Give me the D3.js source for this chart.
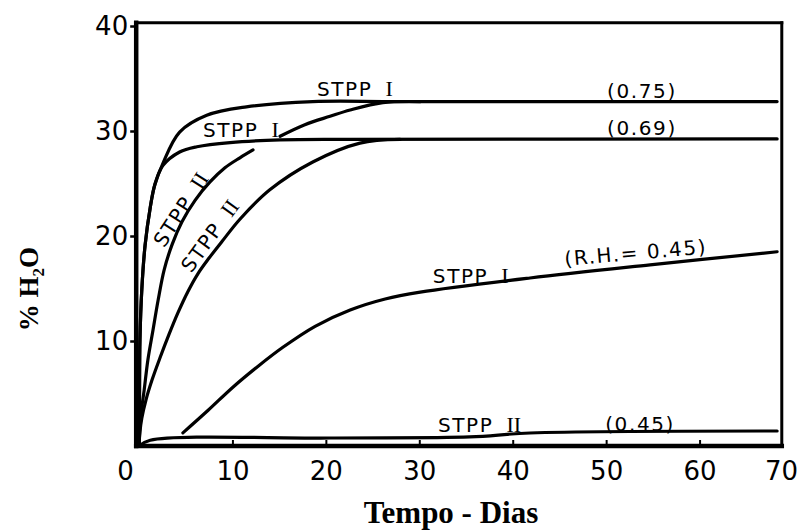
<!DOCTYPE html>
<html>
<head>
<meta charset="utf-8">
<script src="https://cdn.jsdelivr.net/npm/d3@7"></script>
<style>
  html, body { margin: 0; padding: 0; background: #fff; }
  svg { display: block; }
</style>
</head>
<body>
<svg id="chart" width="798" height="530"></svg>
<script>
// Water uptake of sodium tripolyphosphate (forms I and II) at several relative humidities.
// Days since exposure, and % H2O gained.

const stppI_075_days  = [0, 0.05, 0.1, 0.3, 0.65, 1.2, 1.7, 2.55, 4.35, 7.25, 11.5, 18.6, 27.9, 68.3];
const stppI_075_h2o   = [0, 4.4, 10.1, 14.9, 19.1, 22.7, 24.9, 26.9, 29.9, 31.5, 32.3, 32.8, 32.8, 32.8];

const stppI_069_days  = [0, 0.05, 0.1, 0.3, 0.65, 1.2, 1.7, 2.55, 4.35, 6.2, 9.75, 15.1, 22.6, 68.3];
const stppI_069_h2o   = [0, 4.4, 10.1, 14.9, 19.1, 22.7, 24.9, 26.7, 28.0, 28.5, 28.9, 29.15, 29.2, 29.25];

// null marks the break where the curve passes under the "STPP I" lettering
const stppII_075_days = [0, 0.2, 0.55, 0.95, 1.5, 2.05, 2.7, 3.55, 4.6, 6.0, 7.6, 9.2, 10.8, 12.2, 13.6, 15.1, 17.75, 20.45, 22.6, 26.1, 30.1];
const stppII_075_h2o  = [0, 2.95, 5.3, 8.2, 11.05, 13.9, 16.8, 19.2, 21.35, 23.4, 25.15, 26.5, 27.45, 28.2, null, 29.5, 30.6, 31.4, 32.0, 32.7, 32.8];

const stppII_069_days = [0, 0.1, 0.3, 0.75, 1.4, 2.25, 3.2, 4.15, 5.2, 6.3, 7.5, 8.9, 10.8, 14.0, 18.6, 23.65, 27.95];
const stppII_069_h2o  = [0, 1.35, 2.65, 4.4, 6.3, 8.4, 10.6, 12.65, 14.65, 16.4, 17.9, 19.5, 21.6, 24.4, 27.05, 28.85, 29.2];

const stppI_045_days  = [4.7, 7.4, 10.05, 12.75, 15.4, 18.85, 22.6, 26.35, 30.1, 41.85, 54.7, 68.3];
const stppI_045_h2o   = [1.25, 3.4, 5.6, 7.6, 9.4, 11.4, 12.95, 14.0, 14.65, 16.0, 17.25, 18.5];

const stppII_045_days = [0, 1.2, 20.45, 35.4, 41.85, 68.3];
const stppII_045_h2o  = [0, 0.55, 0.76, 0.86, 1.24, 1.43];

const xTickValues = [0, 10, 20, 30, 40, 50, 60, 70];
const yTickValues = [10, 20, 30, 40];

const xTitle = "Tempo - Dias";

// curve annotations: text, numeral, anchor day, anchor % H2O, rotation
const curveLabels = [
  { text: "STPP", numeral: "I",  day: 19.05, h2o: 33.3,  angle: 0,   anchor: "start" },
  { text: "(0.75)", numeral: "",  day: 50.1,  h2o: 33.15, angle: 0,   anchor: "start" },
  { text: "(0.69)", numeral: "",  day: 50.1,  h2o: 29.6,  angle: 0,   anchor: "start" },
  { text: "STPP", numeral: "I",  day: 6.85,  h2o: 29.4,  angle: 0,   anchor: "start" },
  { text: "STPP", numeral: "II", day: 4.5,   h2o: 22.5,  angle: -57, anchor: "middle" },
  { text: "STPP", numeral: "II", day: 7.6,   h2o: 20.0,  angle: -54, anchor: "middle" },
  { text: "STPP", numeral: "I",  day: 31.45, h2o: 15.5,  angle: 0,   anchor: "start" },
  { text: "(R.H.= 0.45)", numeral: "", day: 45.6, h2o: 17.15, angle: -5, anchor: "start" },
  { text: "STPP", numeral: "II", day: 32.0,  h2o: 1.33,  angle: 0,   anchor: "start" },
  { text: "(0.45)", numeral: "",  day: 49.9,  h2o: 1.43,  angle: 0,   anchor: "start" }
];

// plotting frame limits (in data units)
const frameDays = [-0.3, 68.8];
const frameH2O = [0, 40.3];

const svg = d3.select("#chart");

const x = d3.scaleLinear().domain([0, 70]).range([139, 793]);
const y = d3.scaleLinear().domain([0, 40]).range([446, 26]);

const series = [
  [stppI_075_days, stppI_075_h2o],
  [stppI_069_days, stppI_069_h2o],
  [stppII_075_days, stppII_075_h2o],
  [stppII_069_days, stppII_069_h2o],
  [stppI_045_days, stppI_045_h2o],
  [stppII_045_days, stppII_045_h2o]
].map(([ds, vs]) => ds.map((d, i) => ({ day: d, h2o: vs[i] })));

const line = d3.line()
  .defined(d => d.h2o != null)
  .x(d => x(d.day))
  .y(d => y(d.h2o))
  .curve(d3.curveCatmullRom.alpha(0.5));

svg.append("g")
  .selectAll("path")
  .data(series)
  .join("path")
  .attr("d", line)
  .attr("fill", "none")
  .attr("stroke", "#000")
  .attr("stroke-width", 3.2)
  .attr("stroke-linecap", "round")
  .attr("stroke-linejoin", "round");

// frame
const fx0 = x(frameDays[0]), fx1 = x(frameDays[1]);
const fy0 = y(frameH2O[0]), fy1 = y(frameH2O[1]);
const frame = svg.append("g").attr("stroke", "#000").attr("stroke-linecap", "square");
frame.append("line").attr("x1", fx0).attr("x2", fx0).attr("y1", fy1).attr("y2", fy0).attr("stroke-width", 4.5);
frame.append("line").attr("x1", fx0).attr("x2", fx1).attr("y1", fy0).attr("y2", fy0).attr("stroke-width", 4.5);
frame.append("line").attr("x1", fx0).attr("x2", fx1).attr("y1", fy1).attr("y2", fy1).attr("stroke-width", 3);
frame.append("line").attr("x1", fx1).attr("x2", fx1).attr("y1", fy1).attr("y2", fy0).attr("stroke-width", 3);

// x axis
const xAxis = svg.append("g")
  .attr("transform", `translate(0,${fy0})`)
  .call(d3.axisBottom(x).tickValues(xTickValues).tickSize(-6).tickPadding(0).tickFormat(d3.format("d")));
xAxis.select(".domain").remove();
xAxis.selectAll(".tick line")
  .attr("stroke", "#000").attr("stroke-width", 2)
  .attr("display", d => (d > 0 && x(d) < fx1 - 2) ? null : "none");
xAxis.selectAll(".tick text")
  .attr("font-family", "DejaVu Sans")
  .attr("font-size", 26)
  .attr("fill", "#000")
  .attr("dy", null)
  .attr("y", 34)
  .attr("dx", d => d === 0 ? -14 : (d === 70 ? -12 : 0));

// y axis
const yAxis = svg.append("g")
  .attr("transform", `translate(${fx0},0)`)
  .call(d3.axisLeft(y).tickValues(yTickValues).tickSize(6).tickPadding(2).tickFormat(d3.format("d")));
yAxis.select(".domain").remove();
yAxis.selectAll(".tick line").attr("stroke", "#000").attr("stroke-width", 2.5);
yAxis.selectAll(".tick text")
  .attr("font-family", "DejaVu Sans")
  .attr("font-size", 26)
  .attr("fill", "#000");

// curve annotations
const lbl = svg.append("g")
  .selectAll("text")
  .data(curveLabels)
  .join("text")
  .attr("transform", d => `translate(${x(d.day)},${y(d.h2o)}) rotate(${d.angle})`)
  .attr("text-anchor", d => d.anchor)
  .attr("dy", d => d.anchor === "middle" ? "0.35em" : null)
  .attr("font-family", "DejaVu Sans")
  .attr("font-size", 20)
  .attr("letter-spacing", 1.6)
  .attr("fill", "#000");
lbl.append("tspan").text(d => d.text);
lbl.filter(d => d.numeral).append("tspan")
  .attr("dx", 13)
  .attr("font-family", "Liberation Serif")
  .attr("font-size", 22)
  .attr("letter-spacing", 0)
  .text(d => d.numeral);

// axis titles
svg.append("text")
  .attr("x", 451)
  .attr("y", 523)
  .attr("text-anchor", "middle")
  .attr("font-family", "Liberation Serif")
  .attr("font-weight", "bold")
  .attr("font-size", 31)
  .attr("fill", "#000")
  .text(xTitle);

const yt = svg.append("text")
  .attr("transform", "translate(38,289) rotate(-90)")
  .attr("text-anchor", "middle")
  .attr("font-family", "Liberation Serif")
  .attr("font-weight", "bold")
  .attr("font-size", 27)
  .attr("fill", "#000");
yt.append("tspan").text("% H");
yt.append("tspan").attr("font-size", 17).attr("dy", 6).text("2");
yt.append("tspan").attr("dy", -6).text("O");
</script>
</body>
</html>
